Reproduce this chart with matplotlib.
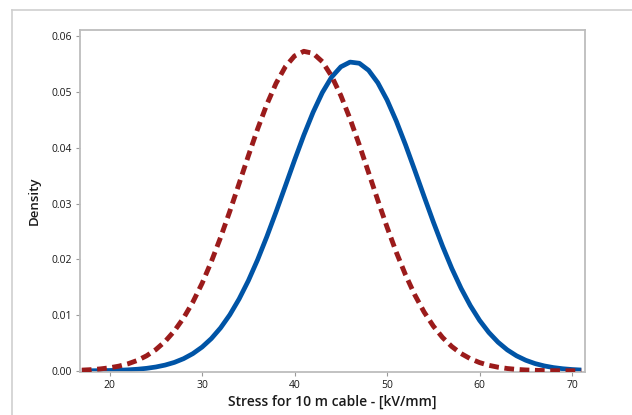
import matplotlib
matplotlib.use("Agg")
import matplotlib.pyplot as plt
from matplotlib.lines import Line2D

# Stress values (kV/mm) at which the density curves were read
stress = [17, 18, 19, 20, 21, 22, 23, 24, 25, 26, 27, 28, 29, 30, 31, 32, 33, 34,
          35, 36, 37, 38, 39, 40, 41, 42, 43, 44, 45, 46, 47, 48, 49, 50, 51, 52,
          53, 54, 55, 56, 57, 58, 59, 60, 61, 62, 63, 64, 65, 66, 67, 68, 69, 70, 71]

# Blue solid curve
density_blue = [0.000014, 0.000024, 0.000042, 0.000070, 0.000115, 0.000186, 0.000295,
                0.000458, 0.000697, 0.00104, 0.00152, 0.00219, 0.00309, 0.00427,
                0.00579, 0.00771, 0.01006, 0.01288, 0.01616, 0.01991, 0.02406,
                0.02851, 0.03313, 0.03778, 0.04225, 0.04635, 0.04988, 0.05265,
                0.05450, 0.05535, 0.05514, 0.05388, 0.05164, 0.04855, 0.04477,
                0.04050, 0.03593, 0.03127, 0.02670, 0.02235, 0.01836, 0.01480,
                0.01170, 0.00906, 0.00689, 0.00514, 0.00376, 0.00270, 0.00190,
                0.00131, 0.000889, 0.000590, 0.000385, 0.000246, 0.000154]

# Red dashed curve
density_red = [0.000136, 0.000222, 0.000354, 0.000554, 0.000849, 0.001276, 0.001876,
               0.002704, 0.003818, 0.005277, 0.007151, 0.009489, 0.01233, 0.01569,
               0.01958, 0.02392, 0.02862, 0.03356, 0.03853, 0.04335, 0.04776,
               0.05155, 0.05451, 0.05645, 0.05728, 0.05692, 0.05542, 0.05285,
               0.04936, 0.04517, 0.04049, 0.03555, 0.03058, 0.02576, 0.02126,
               0.01719, 0.01361, 0.01056, 0.00803, 0.00598, 0.00436, 0.00311,
               0.00218, 0.00149, 0.00100, 0.000659, 0.000424, 0.000268, 0.000166,
               0.000100, 0.0000595, 0.0000345, 0.0000197, 0.0000110, 0.0000060]

x_ticks = [20, 30, 40, 50, 60, 70]
y_ticks = [0.00, 0.01, 0.02, 0.03, 0.04, 0.05, 0.06]
y_tick_labels = ["0.00", "0.01", "0.02", "0.03", "0.04", "0.05", "0.06"]

plt.rcParams['font.family'] = ['Open Sans', 'DejaVu Sans']

W, H = 632, 415
fig = plt.figure(figsize=(W / 100, H / 100), dpi=100)
fig.patch.set_facecolor('white')

# outer light frame (top and left edges visible)
frame_col = '#CFCFCF'
fig.add_artist(Line2D([12 / W, 1.0], [1 - 10 / H, 1 - 10 / H], transform=fig.transFigure,
                      color=frame_col, lw=1.2))
fig.add_artist(Line2D([12 / W, 12 / W], [0.0, 1 - 10 / H], transform=fig.transFigure,
                      color=frame_col, lw=1.2))

left, right, top, bottom = 80, 585, 30, 372
ax = fig.add_axes([left / W, 1 - bottom / H, (right - left) / W, (bottom - top) / H])

ax.plot(stress, density_blue, color='#0054A6', lw=3.4, solid_capstyle='butt', zorder=2)
ax.plot(stress, density_red, color='#9B1B1B', lw=3.5, linestyle=(0, (2.0, 1.15)),
        dash_capstyle='butt', zorder=3)

ax.set_xlim(16.8, 71.4)
ax.set_ylim(-0.0002, 0.0611)
ax.set_xticks(x_ticks)
ax.set_yticks(y_ticks)
ax.set_yticklabels(y_tick_labels)

for s in ax.spines.values():
    s.set_color('#BDBDBD')
    s.set_linewidth(1.3)

ax.tick_params(axis='both', direction='out', length=3, width=0.8, color='#9A9A9A',
               labelsize=7.5, labelcolor='#1A1A1A', pad=2.5)

ax.set_xlabel("Stress for 10 m cable - [kV/mm]", fontsize=10, fontweight='semibold',
              color='#1A1A1A', labelpad=3)
ax.set_ylabel("Density", fontsize=9.5, fontweight='semibold', color='#1A1A1A', labelpad=8)

fig.savefig("out.png", dpi=100, facecolor='white')
